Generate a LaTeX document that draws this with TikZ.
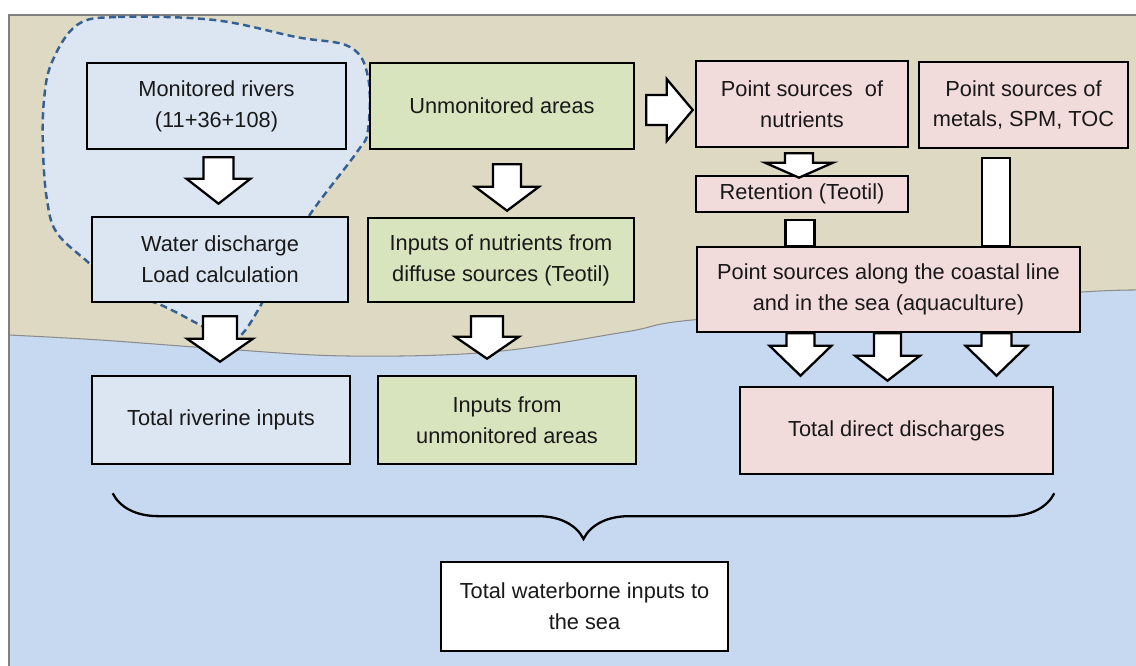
\documentclass[tikz,border=0pt]{standalone}
\usepackage{fontspec}
\setmainfont{Liberation Sans}
\usepackage{tikz}
\usetikzlibrary{calc}
\usetikzlibrary{decorations.pathreplacing}

\definecolor{seablue}{HTML}{C6D9F1}
\definecolor{landtan}{HTML}{DDD9C3}
\definecolor{rivblue}{HTML}{DCE6F2}
\definecolor{areagreen}{HTML}{D7E4BD}
\definecolor{pointpink}{HTML}{F2DCDB}
\definecolor{blobline}{HTML}{376092}

\tikzset{
  box/.style={draw=black, line width=1.5pt, inner sep=0pt, align=center, text=black!90,
    font=\fontsize{12.4}{17.5}\selectfont},
  rivbox/.style={box, fill=rivblue},
  areabox/.style={box, fill=areagreen},
  pointbox/.style={box, fill=pointpink},
  seabox/.style={box, fill=white},
  blockarr/.style={draw=black, fill=white, line width=1.3pt, line join=miter},
}

% block arrows, sizes in px: start, tip, shaft half width, head half width, head length
\newcommand{\blockdown}[5]{%
  \draw[blockarr] let \p1=#1, \p2=#2 in
    (\x1-#3*0.02cm,\y1) -- (\x1-#3*0.02cm,\y2+#5*0.02cm) -- (\x1-#4*0.02cm,\y2+#5*0.02cm)
    -- (\x1,\y2) -- (\x1+#4*0.02cm,\y2+#5*0.02cm) -- (\x1+#3*0.02cm,\y2+#5*0.02cm)
    -- (\x1+#3*0.02cm,\y1) -- cycle;}
\newcommand{\blockright}[5]{%
  \draw[blockarr] let \p1=#1, \p2=#2 in
    (\x1,\y1+#3*0.02cm) -- (\x2-#5*0.02cm,\y1+#3*0.02cm) -- (\x2-#5*0.02cm,\y1+#4*0.02cm)
    -- (\x2,\y1) -- (\x2-#5*0.02cm,\y1-#4*0.02cm) -- (\x2-#5*0.02cm,\y1-#3*0.02cm)
    -- (\x1,\y1-#3*0.02cm) -- cycle;}
\newcommand{\blockbar}[3]{%
  \draw[blockarr] let \p1=#1, \p2=#2 in
    (\x1-#3*0.02cm,\y1) rectangle (\x1+#3*0.02cm,\y2);}

\begin{document}
\begin{tikzpicture}[x=0.02cm, y=-0.02cm]
      \useasboundingbox (0,0) rectangle (1136,666);

      % sea and land
      \fill[seablue] (9,15) rectangle (1140,670);
      \fill[landtan] (9,15) -- (1140,15) -- (1140,290)
        -- plot[smooth, tension=0.6] coordinates {(1140,290) (1082,292) (900,305) (692,320) (625,332)
           (491,352) (348,356) (223,349) (100,340) (9,335)} -- cycle;
      \draw[black!45, line width=0.6pt] plot[smooth, tension=0.6] coordinates {(1140,290) (1082,292)
           (900,305) (692,320) (625,332) (491,352) (348,356) (223,349) (100,340) (9,335)};
      \draw[black!50, line width=0.6pt] (9,670) -- (9,15) -- (1140,15);

      % monitored catchments
      \filldraw[fill=rivblue, draw=blobline, line width=1.4pt, dash pattern=on 4pt off 2.5pt]
        plot[smooth cycle, tension=0.6] coordinates {(77,25) (118,17) (214,20) (296,37) (350,47)
          (368,77) (368,130) (357,152) (311,213) (285,258) (262,303) (243,333) (228,340) (200,325)
          (161,305) (120,290) (89,263) (57,233) (47,200) (43,150) (44,100) (52,62)};

      \node[rivbox, minimum width=5.18cm, minimum height=1.72cm] (mon) at (216.5,106) {Monitored rivers\\(11+36+108)};
      \node[rivbox, minimum width=5.12cm, minimum height=1.70cm] (water) at (220,259.5) {Water discharge\\Load calculation};
      \node[rivbox, minimum width=5.16cm, minimum height=1.76cm] (riv) at (221,420) {Total riverine inputs};
      \node[areabox, minimum width=5.28cm, minimum height=1.72cm] (unmon) at (502,106) {Unmonitored areas};
      \node[areabox, minimum width=5.32cm, minimum height=1.68cm] (diffuse) at (501,260) {Inputs of nutrients from\\diffuse sources (Teotil)};
      \node[areabox, minimum width=5.16cm, minimum height=1.76cm] (inunmon) at (507,420) {Inputs from\\unmonitored areas};
      \node[pointbox, minimum width=4.24cm, minimum height=1.72cm] (ptnut) at (802,104) {Point sources~ of\\nutrients};
      \node[pointbox, minimum width=4.18cm, minimum height=1.72cm] (metals) at (1023.5,105) {Point sources of\\metals, SPM, TOC};
      \node[pointbox, minimum width=4.24cm, minimum height=0.72cm] (ret) at (802,194) {Retention (Teotil)};
      \node[pointbox, minimum width=7.66cm, minimum height=1.70cm] (coast) at (888.5,289.5) {Point sources along the coastal line\\and in the sea (aquaculture)};
      \node[pointbox, minimum width=6.26cm, minimum height=1.74cm] (ddis) at (896.5,430.5) {Total direct discharges};
      \node[seabox, minimum width=5.74cm, minimum height=1.78cm] (total) at (584.5,606.5) {Total waterborne inputs to\\the sea};

      \blockdown{($(mon.south)+(2,7)$)}{($(water.north)+(0,-12)$)}{15}{32}{25}
      \blockdown{($(unmon.south)+(5,14)$)}{($(diffuse.north)+(0,-6)$)}{14}{32}{24}
      \blockdown{($(water.south)+(0,13)$)}{($(riv.north)+(0,-13)$)}{17}{33}{23}
      \blockdown{($(diffuse.south)+(-14,13)$)}{($(inunmon.north)+(0,-16)$)}{16}{32}{22}
      \blockright{($(unmon.east)+(11,4)$)}{($(ptnut.west)+(-2,6)$)}{15}{31}{26}
      \blockdown{($(ptnut.south)+(-3,5)$)}{($(ret.north)+(0,3)$)}{14}{34}{15}
      \blockbar{($(ret.south)+(-2,7)$)}{(coast.north)}{14.5}
      \blockbar{($(metals.south)+(-27.5,9)$)}{(coast.north)}{14}
      \blockdown{($(coast.south)+(-88,0)$)}{($(ddis.north)+(0,-10)$)}{14}{31}{30}
      \blockdown{($(coast.south)+(-1,0)$)}{($(ddis.north)+(0,-5)$)}{13.5}{32.5}{25}
      \blockdown{($(coast.south)+(108,0)$)}{($(ddis.north)+(0,-10)$)}{15}{31}{30}

      \draw[black, line width=1.3pt, decorate, decoration={brace, amplitude=26pt}]
        ($(ddis.south east)+(0,18)$) -- ($(riv.south west)+(22,28)$);
    \end{tikzpicture}
\end{document}
